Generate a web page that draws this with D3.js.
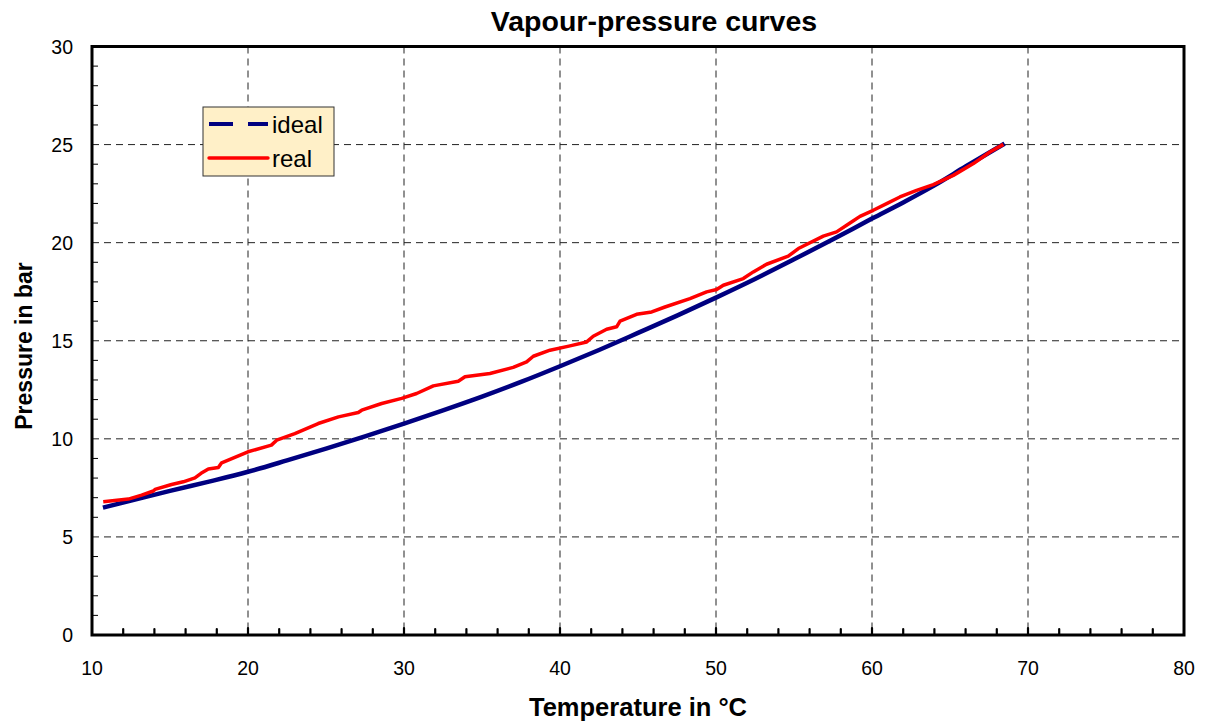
<!DOCTYPE html>
<html><head><meta charset="utf-8">
<script src="https://cdn.jsdelivr.net/npm/d3@7"></script>
<style>body{margin:0;background:#fff}svg{display:block;font-family:"Liberation Sans",Arial,sans-serif}</style>
</head><body><svg id="c" width="1206" height="724"></svg>
<script>
const title = "Vapour-pressure curves";
const xTitle = "Temperature in °C";
const yTitle = "Pressure in bar";
const xTicks = [10,20,30,40,50,60,70,80];
const yTicks = [0,5,10,15,20,25,30];
const seriesNames = ["ideal","real"];
const idealT = [10.7,12.5,15,17.5,20,22.5,25,27.5,30,32.5,35,37.5,40,42.5,45,47.5,50,52.5,55,57.5,60,62,64,66,68.5];
const idealP = [6.49,6.85,7.35,7.82,8.32,8.9,9.5,10.13,10.78,11.45,12.15,12.9,13.7,14.53,15.4,16.28,17.2,18.15,19.15,20.17,21.23,22.05,22.92,23.88,25.05];
const realT = [10.72,12.33,13.18,13.93,14.04,15.1,15.85,16.6,16.99,17.46,18.1,18.31,20.0,21.5,21.84,23.0,24.5,25.8,27.07,27.29,28.57,29.85,30.81,31.88,33.48,33.91,35.51,37.0,37.86,38.29,39.36,40.64,41.71,42.13,42.99,43.63,43.85,44.91,45.88,46.73,48.33,49.4,50.04,50.47,51.75,52.39,53.24,54.63,55.28,56.88,57.73,58.59,59.23,60.08,60.94,61.79,62.86,63.93,65.21,66.5,67.56,68.42];
const realP = [6.79,6.93,7.13,7.34,7.42,7.67,7.81,8.01,8.24,8.46,8.54,8.78,9.34,9.68,9.93,10.27,10.78,11.12,11.34,11.46,11.8,12.06,12.31,12.7,12.94,13.16,13.33,13.64,13.92,14.21,14.52,14.74,14.94,15.23,15.59,15.71,16.0,16.35,16.47,16.72,17.15,17.49,17.61,17.83,18.17,18.51,18.9,19.31,19.7,20.33,20.55,21.0,21.34,21.65,21.99,22.33,22.67,22.96,23.43,24.03,24.62,25.01];

const L=92,R=1184,T=46.5,B=635;
const svg=d3.select("#c");
const x=d3.scaleLinear().domain([10,80]).range([L,R]);
const y=d3.scaleLinear().domain([0,30]).range([B,T]);

// grid
const g=svg.append("g");
g.selectAll(".vg").data(xTicks.slice(1,-1)).join("line")
 .attr("x1",d=>x(d)).attr("x2",d=>x(d)).attr("y1",T).attr("y2",B)
 .attr("stroke","#222").attr("stroke-width",1).attr("stroke-dasharray","7,5");
g.selectAll(".hg").data(yTicks.slice(1,-1)).join("line")
 .attr("x1",L).attr("x2",R).attr("y1",d=>y(d)).attr("y2",d=>y(d))
 .attr("stroke","#222").attr("stroke-width",1).attr("stroke-dasharray","7,5");

// minor ticks
const yMinor=d3.range(1,30).filter(v=>v%5!==0);
svg.append("g").selectAll("line").data(yMinor).join("line")
 .attr("x1",L).attr("x2",L+6).attr("y1",d=>y(d)).attr("y2",d=>y(d))
 .attr("stroke","#000").attr("stroke-width",1);
const xMinor=d3.range(12,80,2);
svg.append("g").selectAll("line").data(xMinor).join("line")
 .attr("x1",d=>x(d)).attr("x2",d=>x(d)).attr("y1",B).attr("y2",d=>B-(d%10===0?7:6))
 .attr("stroke","#000").attr("stroke-width",2.2).attr("stroke-linecap","round");

// axes labels
svg.append("g").selectAll("text").data(yTicks).join("text")
 .attr("x",73).attr("y",d=>y(d)).attr("dy","0.36em").attr("text-anchor","end")
 .attr("font-size",19.5).text(d=>d);
svg.append("g").selectAll("text").data(xTicks).join("text")
 .attr("x",d=>x(d)).attr("y",675).attr("text-anchor","middle")
 .attr("font-size",19.5).text(d=>d);

// lines
const idealData=idealT.map((t,i)=>[t,idealP[i]]);
const realData=realT.map((t,i)=>[t,realP[i]]);
svg.append("path").datum(idealData)
 .attr("d",d3.line().x(d=>x(d[0])).y(d=>y(d[1])).curve(d3.curveMonotoneX))
 .attr("fill","none").attr("stroke","#000080").attr("stroke-width",4.5);
svg.append("path").datum(realData)
 .attr("d",d3.line().x(d=>x(d[0])).y(d=>y(d[1])).curve(d3.curveLinear))
 .attr("fill","none").attr("stroke","#ff0000").attr("stroke-width",3.5).attr("stroke-linejoin","round");

// frame
svg.append("rect").attr("x",L).attr("y",T).attr("width",R-L).attr("height",B-T)
 .attr("fill","none").attr("stroke","#000").attr("stroke-width",3);

// legend
const lg=svg.append("g");
lg.append("rect").attr("x",203).attr("y",107).attr("width",131).attr("height",69)
 .attr("fill","#FFF0C8").attr("stroke","#333").attr("stroke-width",1);
lg.append("line").attr("x1",209).attr("x2",268).attr("y1",124).attr("y2",124)
 .attr("stroke","#000080").attr("stroke-width",4).attr("stroke-dasharray","24,15");
lg.append("line").attr("x1",209).attr("x2",268).attr("y1",158).attr("y2",158)
 .attr("stroke","#ff0000").attr("stroke-width",3.4).attr("stroke-linecap","round");
lg.selectAll("text").data(seriesNames).join("text")
 .attr("x",272).attr("y",(d,i)=>132.5+i*34).attr("font-size",24).text(d=>d);

// titles
svg.append("text").attr("x",654).attr("y",31).attr("text-anchor","middle")
 .attr("font-size",28.5).attr("font-weight","bold").text(title);
svg.append("text").attr("x",638).attr("y",716).attr("text-anchor","middle")
 .attr("font-size",25.5).attr("font-weight","bold").text(xTitle);
svg.append("text").attr("transform","translate(31.5,346) rotate(-90)").attr("text-anchor","middle")
 .attr("font-size",23).attr("font-weight","bold").text(yTitle);
</script></body></html>
